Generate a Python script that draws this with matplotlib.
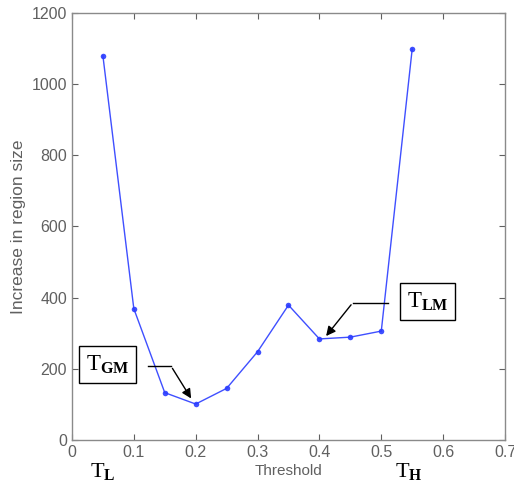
import matplotlib
matplotlib.use("Agg")
import matplotlib.pyplot as plt

# values
threshold = [0.05, 0.10, 0.15, 0.20, 0.25, 0.30, 0.35, 0.40, 0.45, 0.50, 0.55]
region_increase = [1080, 369, 133, 101, 145, 248, 379, 284, 289, 306, 1099]

x_ticks = [0, 0.1, 0.2, 0.3, 0.4, 0.5, 0.6, 0.7]
x_tick_labels = ["0", "0.1", "0.2", "0.3", "0.4", "0.5", "0.6", "0.7"]
y_ticks = [0, 200, 400, 600, 800, 1000, 1200]

plt.rcParams["mathtext.fontset"] = "custom"
plt.rcParams["mathtext.rm"] = "Liberation Serif"
plt.rcParams["mathtext.bf"] = "Liberation Serif:bold"

grey = "#606060"

fig = plt.figure(figsize=(5.14, 4.88), dpi=100)
ax = fig.add_axes([0.140, 0.0984, 0.8425, 0.875])

ax.plot(threshold, region_increase, color="#2a3cff", linewidth=1.0,
        marker="o", markersize=4, markeredgewidth=0, alpha=0.9)

ax.set_xlim(0, 0.7)
ax.set_ylim(0, 1200)
ax.set_xticks(x_ticks)
ax.set_xticklabels(x_tick_labels)
ax.set_yticks(y_ticks)
ax.tick_params(direction="in", length=4, top=True, right=True,
               colors=grey, labelsize=11.5, labelcolor=grey, width=0.8)
for sp in ax.spines.values():
    sp.set_color("#8a8a8a")
    sp.set_linewidth(1.0)

ax.set_xlabel("Threshold", fontsize=11, color=grey, labelpad=3,
              family="Liberation Sans")
ax.set_ylabel("Increase in region size", fontsize=12.5, color=grey, labelpad=4,
              family="Liberation Sans")
for lab in ax.get_xticklabels() + ax.get_yticklabels():
    lab.set_family("Liberation Sans")

box = dict(boxstyle="square,pad=0.3", facecolor="white", edgecolor="black", linewidth=1.0)

# global minimum callout
ax.text(0.058, 212, r"$\mathrm{T}_{\mathbf{GM}}$", fontsize=16.5, ha="center", va="center",
        bbox=box)
ax.plot([0.123, 0.160], [208, 208], color="black", linewidth=1.0)
ax.annotate("", xy=(0.195, 110), xytext=(0.160, 208),
            arrowprops=dict(arrowstyle="-|>", color="black", lw=1.0, mutation_scale=14))

# local minimum callout
ax.text(0.575, 389, r"$\mathrm{T}_{\mathbf{LM}}$", fontsize=16.5, ha="center", va="center",
        bbox=box)
ax.plot([0.511, 0.454], [386, 386], color="black", linewidth=1.0)
ax.annotate("", xy=(0.408, 286), xytext=(0.454, 386),
            arrowprops=dict(arrowstyle="-|>", color="black", lw=1.0, mutation_scale=14))

# low / high threshold markers under the axis
trans = ax.get_xaxis_transform()
ax.text(0.05, -0.075, r"$\mathrm{T}_{\mathbf{L}}$", transform=trans, fontsize=16,
        ha="center", va="center", clip_on=False)
ax.text(0.545, -0.075, r"$\mathrm{T}_{\mathbf{H}}$", transform=trans, fontsize=16,
        ha="center", va="center", clip_on=False)

fig.savefig("out.png", dpi=100, facecolor="white")
